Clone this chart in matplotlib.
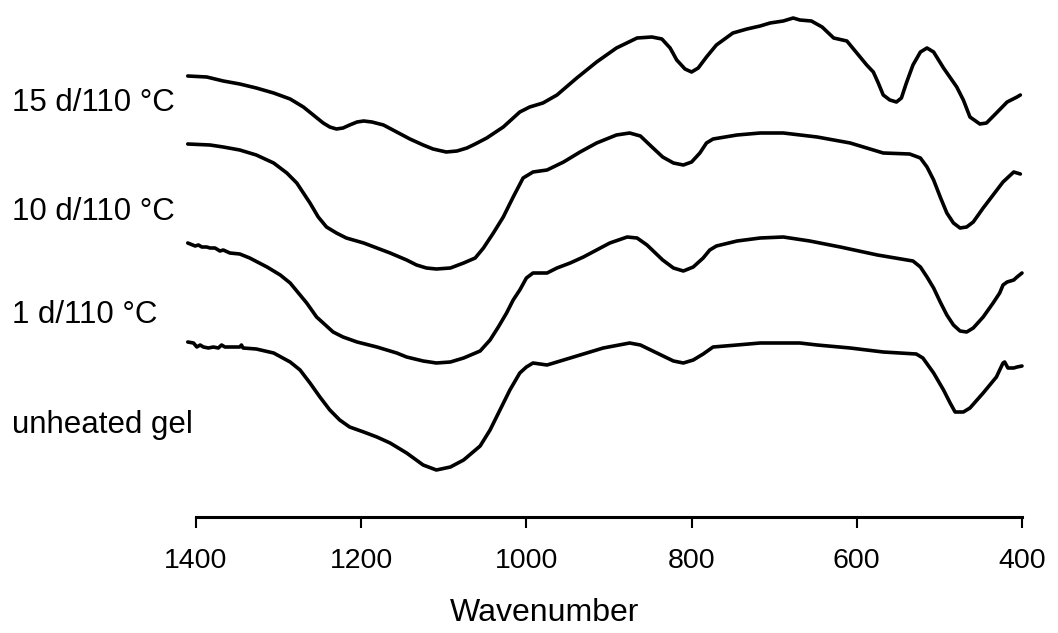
#!/usr/bin/env python
"""IR spectra of the gel after different heat treatments (stacked traces)."""
import matplotlib

matplotlib.use("Agg")
import matplotlib.pyplot as plt

plt.rcParams["font.family"] = ["Liberation Sans", "DejaVu Sans"]

# --- data (wavenumber, arbitrary stacked transmittance)
wn_15d = [1410, 1387, 1367, 1347, 1327, 1306, 1286, 1270, 1258, 1246, 1238, 1230,
          1222, 1214, 1205, 1197, 1187, 1173, 1157, 1141, 1125, 1113, 1097, 1084,
          1072, 1062, 1048, 1028, 1008, 996, 980, 963, 939, 915, 891, 866, 848,
          836, 826, 818, 808, 800, 792, 782, 770, 750, 733, 717, 705, 689, 677,
          669, 655, 642, 628, 612, 600, 588, 580, 574, 568, 560, 552, 546, 540,
          532, 523, 515, 507, 495, 479, 471, 463, 451, 443, 431, 418, 406, 402]
tr_15d = [4.41, 4.40, 4.36, 4.33, 4.29, 4.24, 4.18, 4.10, 4.02, 3.94, 3.90, 3.88,
          3.89, 3.92, 3.95, 3.96, 3.95, 3.92, 3.85, 3.78, 3.72, 3.68, 3.65, 3.66,
          3.69, 3.73, 3.79, 3.90, 4.05, 4.10, 4.14, 4.22, 4.39, 4.55, 4.69, 4.79,
          4.80, 4.78, 4.69, 4.57, 4.48, 4.45, 4.49, 4.60, 4.72, 4.84, 4.88, 4.91,
          4.94, 4.96, 4.99, 4.97, 4.96, 4.90, 4.79, 4.76, 4.64, 4.52, 4.45, 4.34,
          4.22, 4.17, 4.15, 4.19, 4.34, 4.52, 4.65, 4.69, 4.65, 4.49, 4.30, 4.17,
          4.00, 3.93, 3.94, 4.04, 4.15, 4.20, 4.22]

wn_10d = [1410, 1383, 1367, 1347, 1327, 1306, 1290, 1278, 1270, 1262, 1252, 1242,
          1230, 1218, 1197, 1181, 1165, 1145, 1133, 1121, 1109, 1092, 1076, 1062,
          1052, 1040, 1028, 1016, 1004, 992, 975, 955, 935, 915, 891, 875, 862,
          848, 835, 822, 810, 800, 790, 782, 774, 745, 717, 689, 648, 608, 568,
          536, 523, 515, 507, 499, 491, 483, 475, 467, 459, 447, 435, 423, 410,
          406, 402]
tr_10d = [3.73, 3.72, 3.70, 3.67, 3.62, 3.54, 3.44, 3.34, 3.24, 3.14, 3.00, 2.90,
          2.84, 2.79, 2.74, 2.69, 2.64, 2.57, 2.52, 2.49, 2.48, 2.49, 2.54, 2.59,
          2.69, 2.84, 3.00, 3.20, 3.39, 3.45, 3.47, 3.55, 3.65, 3.74, 3.82, 3.84,
          3.81, 3.70, 3.60, 3.54, 3.52, 3.55, 3.64, 3.74, 3.78, 3.82, 3.84, 3.84,
          3.80, 3.74, 3.64, 3.63, 3.59, 3.50, 3.37, 3.20, 3.04, 2.94, 2.89, 2.90,
          2.95, 3.09, 3.22, 3.35, 3.45, 3.44, 3.43]

wn_1d = [1410, 1401, 1397, 1393, 1387, 1383, 1377, 1371, 1367, 1359, 1347, 1335,
         1314, 1298, 1286, 1274, 1266, 1254, 1246, 1234, 1222, 1205, 1181, 1157,
         1145, 1125, 1109, 1092, 1076, 1056, 1044, 1034, 1024, 1016, 1008, 1000,
         992, 975, 963, 947, 931, 915, 899, 878, 866, 854, 835, 822, 810, 798,
         786, 778, 770, 745, 717, 689, 657, 620, 575, 532, 523, 515, 507, 499,
         491, 483, 475, 467, 459, 447, 435, 427, 423, 418, 410, 406, 400]
tr_1d = [2.74, 2.71, 2.72, 2.70, 2.70, 2.69, 2.69, 2.66, 2.67, 2.64, 2.63, 2.59,
         2.50, 2.42, 2.34, 2.22, 2.14, 2.00, 1.94, 1.85, 1.80, 1.75, 1.70, 1.64,
         1.60, 1.56, 1.54, 1.55, 1.59, 1.66, 1.77, 1.90, 2.04, 2.17, 2.27, 2.39,
         2.44, 2.44, 2.49, 2.54, 2.60, 2.67, 2.74, 2.80, 2.79, 2.72, 2.57, 2.49,
         2.46, 2.50, 2.59, 2.67, 2.71, 2.76, 2.79, 2.80, 2.76, 2.70, 2.62, 2.56,
         2.50, 2.40, 2.29, 2.15, 2.02, 1.92, 1.86, 1.85, 1.89, 2.00, 2.14, 2.24,
         2.32, 2.35, 2.37, 2.40, 2.44]

wn_gel = [1410, 1403, 1399, 1395, 1391, 1385, 1379, 1373, 1369, 1365, 1359, 1347,
          1345, 1343, 1327, 1306, 1286, 1274, 1262, 1250, 1238, 1226, 1214, 1197,
          1181, 1165, 1145, 1125, 1109, 1092, 1076, 1056, 1044, 1032, 1020, 1008,
          1000, 992, 975, 947, 907, 875, 862, 842, 822, 810, 798, 786, 774, 745,
          717, 669, 648, 608, 568, 528, 520, 507, 495, 487, 481, 471, 463, 447,
          431, 423, 421, 417, 410, 406, 400]
tr_gel = [1.75, 1.74, 1.70, 1.72, 1.70, 1.69, 1.70, 1.69, 1.72, 1.70, 1.70, 1.70,
          1.72, 1.69, 1.68, 1.64, 1.55, 1.47, 1.34, 1.20, 1.07, 0.97, 0.90, 0.85,
          0.80, 0.74, 0.64, 0.52, 0.47, 0.50, 0.57, 0.71, 0.87, 1.07, 1.27, 1.44,
          1.50, 1.54, 1.52, 1.59, 1.69, 1.74, 1.72, 1.64, 1.56, 1.54, 1.57, 1.63,
          1.70, 1.72, 1.74, 1.74, 1.72, 1.69, 1.65, 1.63, 1.59, 1.44, 1.27, 1.14,
          1.05, 1.05, 1.09, 1.24, 1.40, 1.54, 1.55, 1.49, 1.49, 1.50, 1.51]

labels = ["15 d/110 °C", "10 d/110 °C", "1 d/110 °C", "unheated gel"]
label_baseline_px = [111, 220, 323, 433]  # where each label sits on the page
xticks = [1400, 1200, 1000, 800, 600, 400]

W, H = 1058, 633
fig = plt.figure(figsize=(W / 100, H / 100), dpi=100)
ax = fig.add_axes([196 / W, (H - 517) / H, (1022 - 196) / W, 517 / H])

for wn, tr in [(wn_15d, tr_15d), (wn_10d, tr_10d), (wn_1d, tr_1d), (wn_gel, tr_gel)]:
    ax.plot(wn, tr, color="black", lw=2.6, solid_joinstyle="round",
            solid_capstyle="round", clip_on=False)

ax.set_xlim(1400, 400)
ax.set_ylim(0, 5.17)
ax.set_xticks(xticks)
ax.tick_params(axis="x", direction="out", length=8, width=1.5, pad=14,
               labelsize=20.5)
ax.set_yticks([])
for side in ("left", "top", "right"):
    ax.spines[side].set_visible(False)
ax.spines["bottom"].set_linewidth(2.2)

# the axis title sits left of the axis centre in the original
fig.text(450 / W, 1 - 621 / H, "Wavenumber", fontsize=23, ha="left",
         va="baseline")

for text, base in zip(labels, label_baseline_px):
    fig.text(12 / W, 1 - base / H, text, fontsize=22.5, ha="left", va="baseline")

fig.savefig("out.png", dpi=100)
